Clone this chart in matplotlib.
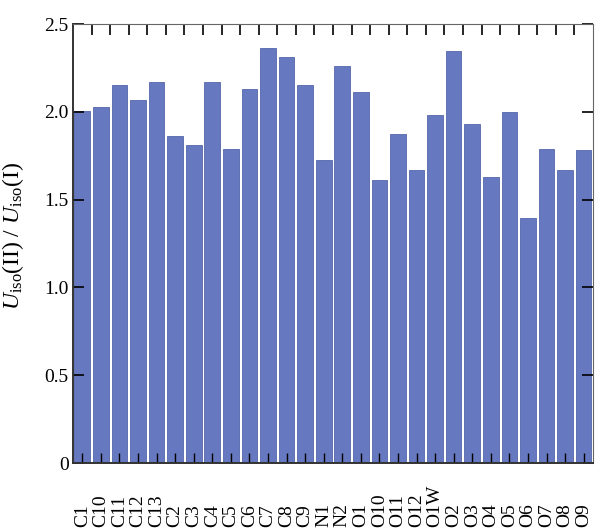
import numpy as np
import matplotlib.pyplot as plt

plt.rcParams['font.family'] = ['Liberation Serif', 'DejaVu Serif']
plt.rcParams['mathtext.fontset'] = 'custom'
plt.rcParams['mathtext.rm'] = 'Liberation Serif'
plt.rcParams['mathtext.it'] = 'Liberation Serif:italic'

atoms = ['C1', 'C10', 'C11', 'C12', 'C13', 'C2', 'C3', 'C4', 'C5', 'C6',
         'C7', 'C8', 'C9', 'N1', 'N2', 'O1', 'O10', 'O11', 'O12', 'O1W',
         'O2', 'O3', 'O4', 'O5', 'O6', 'O7', 'O8', 'O9']
ratio = [2.005, 2.03, 2.15, 2.065, 2.17, 1.86, 1.81, 2.17, 1.79, 2.13,
         2.365, 2.31, 2.15, 1.725, 2.26, 2.115, 1.61, 1.875, 1.67, 1.98,
         2.345, 1.93, 1.63, 2.0, 1.395, 1.79, 1.67, 1.785]
yticks = [0, 0.5, 1.0, 1.5, 2.0, 2.5]
ytick_labels = ['0', '0.5', '1.0', '1.5', '2.0', '2.5']

fig = plt.figure(figsize=(5.95, 5.28), dpi=100)
ax = fig.add_axes([0.1227, 0.1231, 0.8739, 0.8314])

x = np.arange(len(atoms))
ax.bar(x, ratio, width=0.84, color='#6678c0', edgecolor='#5566aa', linewidth=0.6)

ax.set_xlim(-0.5, len(atoms) - 0.5)
ax.set_ylim(0, 2.5)
ax.set_xticks(x)
ax.set_xticklabels([])
ax.set_yticks(yticks)
ax.set_yticklabels(ytick_labels, fontsize=14)
ax.set_ylabel(r'$U_{\rm iso}$(II) / $U_{\rm iso}$(I)', fontsize=17)
ax.yaxis.set_label_coords(-0.09, 0.517)

# atom labels start from a common baseline near the bottom
for xi, name in zip(x, atoms):
    ax.text(xi, -0.145, name, transform=ax.get_xaxis_transform(), rotation=90,
            rotation_mode='anchor', ha='left', va='center', fontsize=14)

ax.tick_params(axis='x', direction='in', length=7, width=1, top=False)
ax.tick_params(axis='y', direction='in', length=8, width=1.2, right=True, pad=3)

# top ticks sit between the bars
top = ax.secondary_xaxis('top')
top.set_xticks(x[:-1] + 0.5)
top.tick_params(direction='in', length=8, width=1.2, labeltop=False)
top.spines['top'].set_visible(False)

for s in ['top', 'right']:
    ax.spines[s].set_color('#666666')
for s in ['left', 'bottom']:
    ax.spines[s].set_color('#333333')
    ax.spines[s].set_linewidth(1.4)

fig.savefig('out.png', dpi=100)
